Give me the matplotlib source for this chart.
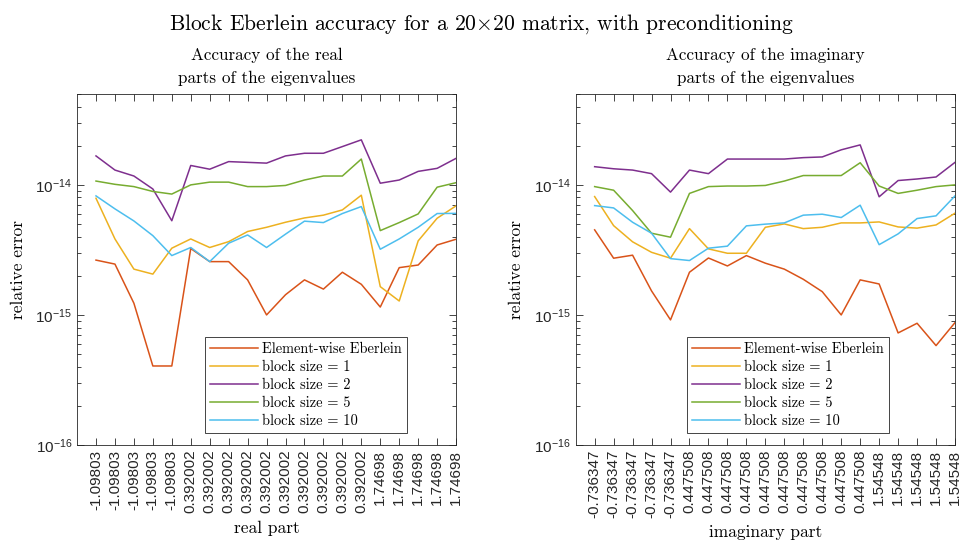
import matplotlib
matplotlib.use("Agg")
from matplotlib import pyplot as plt
from matplotlib.ticker import LogLocator, NullFormatter

plt.rcParams['font.family'] = ['cmr10', 'DejaVu Serif']
plt.rcParams['mathtext.fontset'] = 'cm'
plt.rcParams['axes.formatter.use_mathtext'] = True

# DATA
real_ticks = ["-1.09803"] * 5 + ["0.392002"] * 10 + ["1.74698"] * 5
imag_ticks = ["-0.736347"] * 5 + ["0.447508"] * 10 + ["1.54548"] * 5

series_names = ["Element-wise Eberlein", "block size = 1", "block size = 2",
                "block size = 5", "block size = 10"]

real_elem = [2.64e-15, 2.46e-15, 1.23e-15, 4.05e-16, 4.05e-16, 3.24e-15, 2.57e-15, 2.57e-15, 1.86e-15, 1.0e-15,
             1.43e-15, 1.86e-15, 1.58e-15, 2.13e-15, 1.72e-15, 1.15e-15, 2.31e-15, 2.42e-15, 3.45e-15, 3.82e-15]
real_b1 = [7.89e-15, 3.84e-15, 2.25e-15, 2.06e-15, 3.26e-15, 3.84e-15, 3.30e-15, 3.66e-15, 4.38e-15, 4.72e-15,
           5.16e-15, 5.57e-15, 5.85e-15, 6.42e-15, 8.33e-15, 1.65e-15, 1.28e-15, 3.71e-15, 5.54e-15, 6.90e-15]
real_b2 = [1.67e-14, 1.30e-14, 1.17e-14, 0.93e-14, 5.3e-15, 1.41e-14, 1.32e-14, 1.51e-14, 1.49e-14, 1.47e-14,
           1.67e-14, 1.75e-14, 1.75e-14, 1.97e-14, 2.22e-14, 1.03e-14, 1.09e-14, 1.27e-14, 1.34e-14, 1.60e-14]
real_b5 = [1.07e-14, 1.01e-14, 0.97e-14, 0.89e-14, 0.85e-14, 1.0e-14, 1.05e-14, 1.05e-14, 0.97e-14, 0.97e-14,
           0.99e-14, 1.09e-14, 1.17e-14, 1.17e-14, 1.58e-14, 4.45e-15, 5.13e-15, 5.98e-15, 0.96e-14, 1.04e-14]
real_b10 = [8.23e-15, 6.54e-15, 5.28e-15, 4.07e-15, 2.86e-15, 3.30e-15, 2.57e-15, 3.56e-15, 4.12e-15, 3.30e-15,
            4.18e-15, 5.26e-15, 5.13e-15, 6.02e-15, 6.81e-15, 3.20e-15, 3.84e-15, 4.72e-15, 6.02e-15, 6.04e-15]

imag_elem = [4.51e-15, 2.73e-15, 2.88e-15, 1.53e-15, 9.16e-16, 2.13e-15, 2.74e-15, 2.38e-15, 2.86e-15, 2.50e-15,
             2.25e-15, 1.88e-15, 1.51e-15, 1.0e-15, 1.86e-15, 1.73e-15, 7.27e-16, 8.63e-16, 5.81e-16, 8.73e-16]
imag_b1 = [8.13e-15, 4.86e-15, 3.65e-15, 3.03e-15, 2.73e-15, 4.61e-15, 3.22e-15, 2.98e-15, 2.98e-15, 4.72e-15,
           5.01e-15, 4.61e-15, 4.72e-15, 5.10e-15, 5.10e-15, 5.19e-15, 4.75e-15, 4.65e-15, 4.92e-15, 6.06e-15]
imag_b2 = [1.38e-14, 1.33e-14, 1.30e-14, 1.22e-14, 0.88e-14, 1.30e-14, 1.22e-14, 1.58e-14, 1.58e-14, 1.58e-14,
           1.58e-14, 1.62e-14, 1.64e-14, 1.86e-14, 2.03e-14, 0.81e-14, 1.08e-14, 1.11e-14, 1.15e-14, 1.49e-14]
imag_b5 = [0.97e-14, 0.91e-14, 6.35e-15, 4.25e-15, 3.96e-15, 0.86e-14, 0.97e-14, 0.98e-14, 0.98e-14, 0.99e-14,
           1.07e-14, 1.18e-14, 1.18e-14, 1.18e-14, 1.48e-14, 0.98e-14, 0.86e-14, 0.91e-14, 0.97e-14, 1.0e-14]
imag_b10 = [6.93e-15, 6.65e-15, 5.16e-15, 4.25e-15, 2.71e-15, 2.62e-15, 3.26e-15, 3.38e-15, 4.84e-15, 4.99e-15,
            5.10e-15, 5.85e-15, 5.95e-15, 5.61e-15, 6.98e-15, 3.47e-15, 4.20e-15, 5.51e-15, 5.78e-15, 8.23e-15]

colors = ["#D95319", "#EDB120", "#7E2F8E", "#77AC30", "#4DBEEE"]

fig = plt.figure(figsize=(9.63, 5.42), dpi=100)
ax1 = fig.add_axes([0.080, 0.179, 0.3936, 0.6476])
ax2 = fig.add_axes([0.5978, 0.179, 0.3939, 0.6476])

panels = [
    (ax1, [real_elem, real_b1, real_b2, real_b5, real_b10], real_ticks,
     "Accuracy of the real\nparts of the eigenvalues", "real part", 0.871),
    (ax2, [imag_elem, imag_b1, imag_b2, imag_b5, imag_b10], imag_ticks,
     "Accuracy of the imaginary\nparts of the eigenvalues", "imaginary part", 0.826),
]

for ax, data, ticks, title, xlabel, leg_x in panels:
    x = range(1, len(ticks) + 1)
    for vals, name, c in zip(data, series_names, colors):
        ax.plot(x, vals, color=c, lw=1.1, label=name)
    ax.set_yscale('log')
    ax.set_xlim(0, 20)
    ax.set_ylim(1e-16, 5e-14)
    ax.set_xticks(list(x))
    ax.set_xticklabels(ticks, rotation=90)
    ax.yaxis.set_major_locator(LogLocator(base=10, numticks=10))
    ax.yaxis.set_minor_locator(LogLocator(base=10, subs=range(2, 10), numticks=20))
    ax.yaxis.set_minor_formatter(NullFormatter())
    ax.tick_params(which='both', direction='in', top=True, right=True, color='#262626',
                   labelsize=11, labelfontfamily='Liberation Sans', labelcolor='#262626', width=0.6)
    ax.tick_params(which='major', length=5)
    ax.tick_params(which='minor', length=3)
    for s in ax.spines.values():
        s.set_color('#262626')
        s.set_linewidth(0.6)
    ax.set_title(title, fontsize=12.3, pad=8, linespacing=1.6)
    ax.set_xlabel(xlabel, fontsize=12.5, labelpad=5)
    ax.set_ylabel("relative error", fontsize=12.5, labelpad=7)
    leg = ax.legend(loc='lower right', bbox_to_anchor=(leg_x, 0.034), borderaxespad=0,
                    fancybox=False, edgecolor='#262626', framealpha=1, fontsize=10.4,
                    handlelength=3.3, labelspacing=0.3, borderpad=0.35, handletextpad=0.3)
    leg.get_frame().set_linewidth(0.6)

fig.suptitle(r"Block Eberlein accuracy for a 20$\times$20 matrix, with preconditioning",
             fontsize=15.5, y=0.978)

plt.savefig("out.png", dpi=100)
